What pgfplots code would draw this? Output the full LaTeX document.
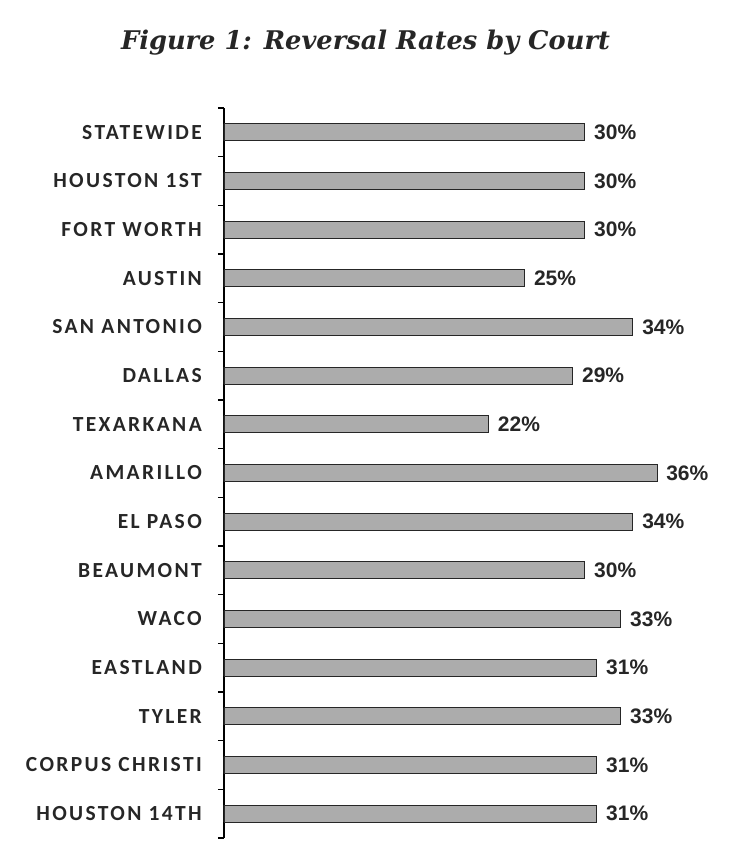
\documentclass[border=0pt]{standalone}
\usepackage{fontspec}
\usepackage{pgfplots}
\pgfplotsset{compat=1.18}
\newfontfamily\catfont[LetterSpace=11]{Carlito}
\newfontfamily\valfont{Liberation Sans}
\newfontfamily\titlefont{DejaVu Serif}
\begin{document}
\begin{tikzpicture}
\begin{axis}[
    xbar,
    scale only axis,
    width=481pt,
    height=730pt,
    xmin=0, xmax=40,
    ymin=0.5, ymax=15.5,
    y dir=reverse,
    axis x line=none,
    axis y line*=left,
    axis line style={black, line width=1.1pt},
    bar width=17pt,
    ytick={1,...,15},
    yticklabels={STATEWIDE, HOUSTON 1ST, FORT WORTH, AUSTIN, SAN ANTONIO, DALLAS, TEXARKANA, AMARILLO, EL PASO, BEAUMONT, WACO, EASTLAND, TYLER, CORPUS CHRISTI, HOUSTON 14TH},
    major tick length=0pt,
    minor ytick={0.5,1.5,...,15.5},
    minor tick length=6pt,
    tick align=outside,
    tick style={black, line width=1.1pt},
    yticklabel style={font=\catfont\bfseries\fontsize{21.5}{25}\selectfont, text=black!85, inner sep=0pt, xshift=-22pt},
    /pgf/number format/assume math mode=true,
    nodes near coords={\pgfmathprintnumber{\pgfplotspointmeta}\%},
    nodes near coords style={font=\valfont\bfseries\fontsize{21}{24}\selectfont, text=black!85, anchor=west, inner sep=0pt, xshift=9pt},
    ]
\addplot [draw=black!85, line width=0.8pt, fill=gray!65] coordinates {
  (30,1) (30,2) (30,3) (25,4) (34,5) (29,6) (22,7) (36,8)
  (34,9) (30,10) (33,11) (31,12) (33,13) (31,14) (31,15) };
\end{axis}
\node[anchor=base, text=black!85, font=\titlefont\bfseries\itshape\fontsize{25.7}{30}\selectfont] at (141.5pt,788pt) {Figure 1: Reversal Rates by Court};
\pgfresetboundingbox
\path[use as bounding box] (-224pt,-6pt) rectangle (513pt,838pt);
\end{tikzpicture}
\end{document}
